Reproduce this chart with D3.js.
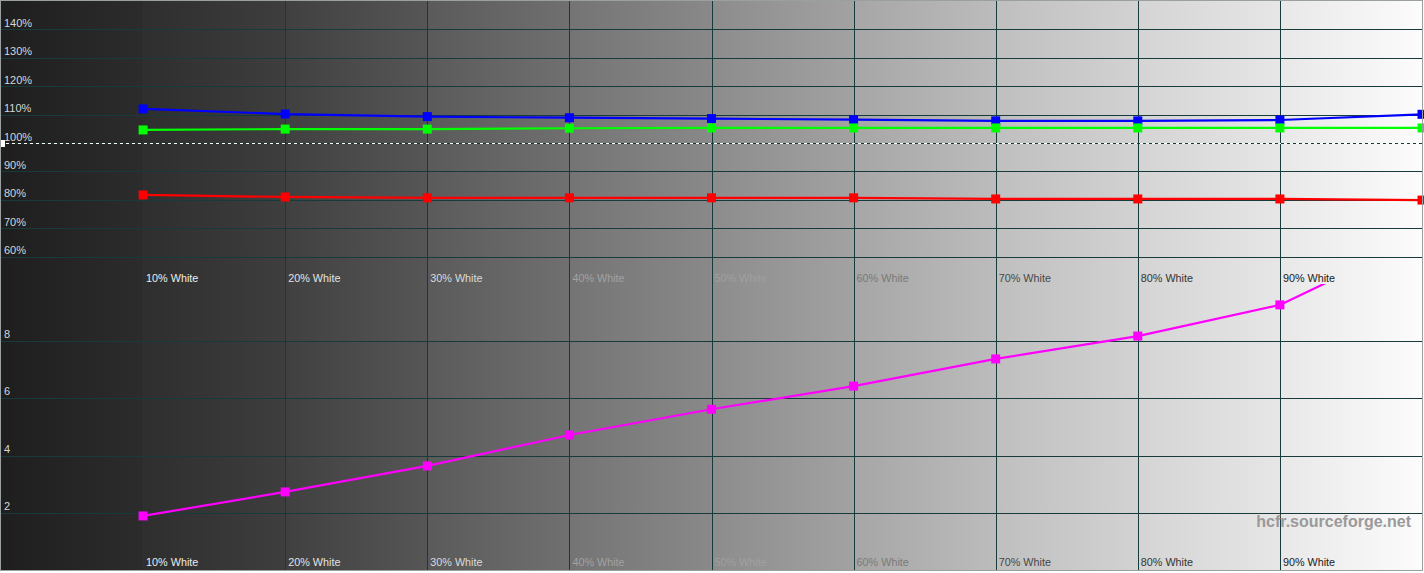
<!DOCTYPE html>
<html>
<head>
<meta charset="utf-8">
<script src="https://cdn.jsdelivr.net/npm/d3@7"></script>
<style>
  html, body { margin: 0; padding: 0; background: #ffffff; overflow: hidden; }
  svg { display: block; font-family: "Liberation Sans", Arial, sans-serif; }
</style>
</head>
<body>
<div id="chart"></div>
<script>
// Greyscale steps (% white) and measured values
const steps = [10, 20, 30, 40, 50, 60, 70, 80, 90, 100];
const tickLabels = ["10% White", "20% White", "30% White", "40% White", "50% White",
  "60% White", "70% White", "80% White", "90% White"];

// RGB levels, % of reference
const redLevels = [81.7, 81.0, 80.7, 80.7, 80.7, 80.7, 80.3, 80.3, 80.3, 79.9];
const greenLevels = [104.6, 104.9, 104.9, 105.2, 105.3, 105.3, 105.3, 105.3, 105.3, 105.3];
const blueLevels = [112.0, 110.2, 109.3, 108.9, 108.6, 108.2, 107.8, 107.8, 108.1, 110.1];

// delta E
const deltaE = [1.89, 2.73, 3.64, 4.72, 5.62, 6.43, 7.38, 8.18, 9.27, 11.64];

const rgbTicks = [60, 70, 80, 90, 100, 110, 120, 130, 140];
const deTicks = [2, 4, 6, 8];

const width = 1424;
const height = 573;

const svg = d3.select("#chart").append("svg")
  .attr("width", width)
  .attr("height", height);

const x = d3.scaleLinear().domain([0, 100]).range([1, 1422]);
const yTop = d3.scaleLinear().domain([50, 150]).range([285, 1]);
const yBot = d3.scaleLinear().domain([0, 10]).range([570, 284]);
const crisp = v => Math.round(v) + 0.5;

// background: each 10% band has its own little gradient
const bandGrey = [
  [0x1e, 0x2c], [0x2e, 0x3e], [0x40, 0x56], [0x5a, 0x70], [0x74, 0x89],
  [0x8c, 0xa2], [0xa6, 0xbc], [0xbf, 0xd2], [0xd4, 0xe6], [0xe8, 0xfc]
];
const grey = v => d3.rgb(v, v, v).formatHex();

const grad = svg.append("defs").append("linearGradient")
  .attr("id", "bg-grad")
  .attr("gradientUnits", "userSpaceOnUse")
  .attr("x1", 0).attr("x2", width).attr("y1", 0).attr("y2", 0);

bandGrey.forEach((g, i) => {
  const x0 = i === 0 ? 0 : x(i * 10);
  const x1 = i === bandGrey.length - 1 ? width : x((i + 1) * 10);
  grad.append("stop").attr("offset", x0 / width).attr("stop-color", grey(g[0]));
  grad.append("stop").attr("offset", x1 / width).attr("stop-color", grey(g[1]));
});

svg.append("rect")
  .attr("width", width)
  .attr("height", 571)
  .style("fill", "url(#bg-grad)");

svg.select("defs").append("clipPath").attr("id", "clip-bot")
  .append("rect").attr("x", 0).attr("y", yBot(10)).attr("width", width).attr("height", yBot(0) - yBot(10));

const gridColor = "#173b3b";

// vertical grid
svg.append("g").selectAll("line")
  .data(steps)
  .enter().append("line")
  .attr("x1", d => crisp(x(d))).attr("x2", d => crisp(x(d)))
  .attr("y1", 0).attr("y2", 571)
  .attr("stroke", gridColor)
  .attr("stroke-width", 1);

// horizontal grid, top panel
svg.append("g").selectAll("line")
  .data(rgbTicks.filter(d => d !== 100))
  .enter().append("line")
  .attr("x1", 0).attr("x2", x(100))
  .attr("y1", d => crisp(yTop(d))).attr("y2", d => crisp(yTop(d)))
  .attr("stroke", gridColor);

// 100% reference: dashed, dark and white alternating
const y100 = crisp(yTop(100));
svg.append("line")
  .attr("x1", 0).attr("x2", x(100)).attr("y1", y100).attr("y2", y100)
  .attr("stroke", gridColor).attr("stroke-dasharray", "3,3").attr("stroke-dashoffset", 3);
svg.append("line")
  .attr("x1", 0).attr("x2", x(100)).attr("y1", y100).attr("y2", y100)
  .attr("stroke", "#ffffff").attr("stroke-dasharray", "3,3");
svg.append("rect")
  .attr("x", 1).attr("y", y100 - 3.5).attr("width", 4).attr("height", 7)
  .attr("fill", "#ffffff");

// horizontal grid, bottom panel
svg.append("g").selectAll("line")
  .data(deTicks)
  .enter().append("line")
  .attr("x1", 0).attr("x2", x(100))
  .attr("y1", d => crisp(yBot(d))).attr("y2", d => crisp(yBot(d)))
  .attr("stroke", gridColor);

// y tick labels
svg.append("g").selectAll("text")
  .data(rgbTicks)
  .enter().append("text")
  .attr("x", 4)
  .attr("y", d => yTop(d) - 2.5)
  .attr("font-size", 11)
  .attr("fill", "#d6d6d6")
  .text(d => d + "%");

svg.append("g").selectAll("text")
  .data(deTicks)
  .enter().append("text")
  .attr("x", 4)
  .attr("y", d => yBot(d) - 3)
  .attr("font-size", 11)
  .attr("fill", "#d6d6d6")
  .text(d => d);

// x labels, colour depends on the patch brightness
const labelColor = d3.scaleLinear()
  .domain([10, 30, 40, 50, 60, 70, 90])
  .range(["#ececec", "#dadada", "#a2a2a2", "#a0a0a0", "#7a7a7a", "#484848", "#202020"]);

[282, 566].forEach(base => {
  svg.append("g").selectAll("text")
    .data(tickLabels)
    .enter().append("text")
    .attr("x", (d, i) => x(steps[i]) + 3)
    .attr("y", base)
    .attr("font-size", 10.8)
    .attr("fill", (d, i) => labelColor(steps[i]))
    .text(d => d);
});

// series
function drawSeries(values, yScale, color, clip) {
  const g = svg.append("g");
  if (clip) g.attr("clip-path", "url(#" + clip + ")");
  const pts = steps.map((s, i) => [s, values[i]]);
  g.append("path")
    .datum(pts)
    .attr("fill", "none")
    .attr("stroke", color)
    .attr("stroke-width", 2.2)
    .attr("d", d3.line().x(d => x(d[0])).y(d => yScale(d[1])));
  g.selectAll("rect")
    .data(pts)
    .enter().append("rect")
    .attr("x", d => x(d[0]) - 4.5)
    .attr("y", d => yScale(d[1]) - 4.5)
    .attr("width", 9)
    .attr("height", 9)
    .attr("fill", color);
}

drawSeries(redLevels, yTop, "#ff0000");
drawSeries(blueLevels, yTop, "#0000ff");
drawSeries(greenLevels, yTop, "#00ff00");
drawSeries(deltaE, yBot, "#ff00ff", "clip-bot");

// watermark
svg.append("text")
  .attr("x", 1411)
  .attr("y", 527)
  .attr("text-anchor", "end")
  .attr("font-size", 16)
  .attr("font-weight", "bold")
  .attr("fill", "#9a9a9a")
  .text("hcfr.sourceforge.net");

// frame
svg.append("rect")
  .attr("x", 0.5).attr("y", 0.5)
  .attr("width", 1422).attr("height", 570)
  .attr("fill", "none")
  .attr("stroke", "#9aa0a0");
</script>
</body>
</html>
